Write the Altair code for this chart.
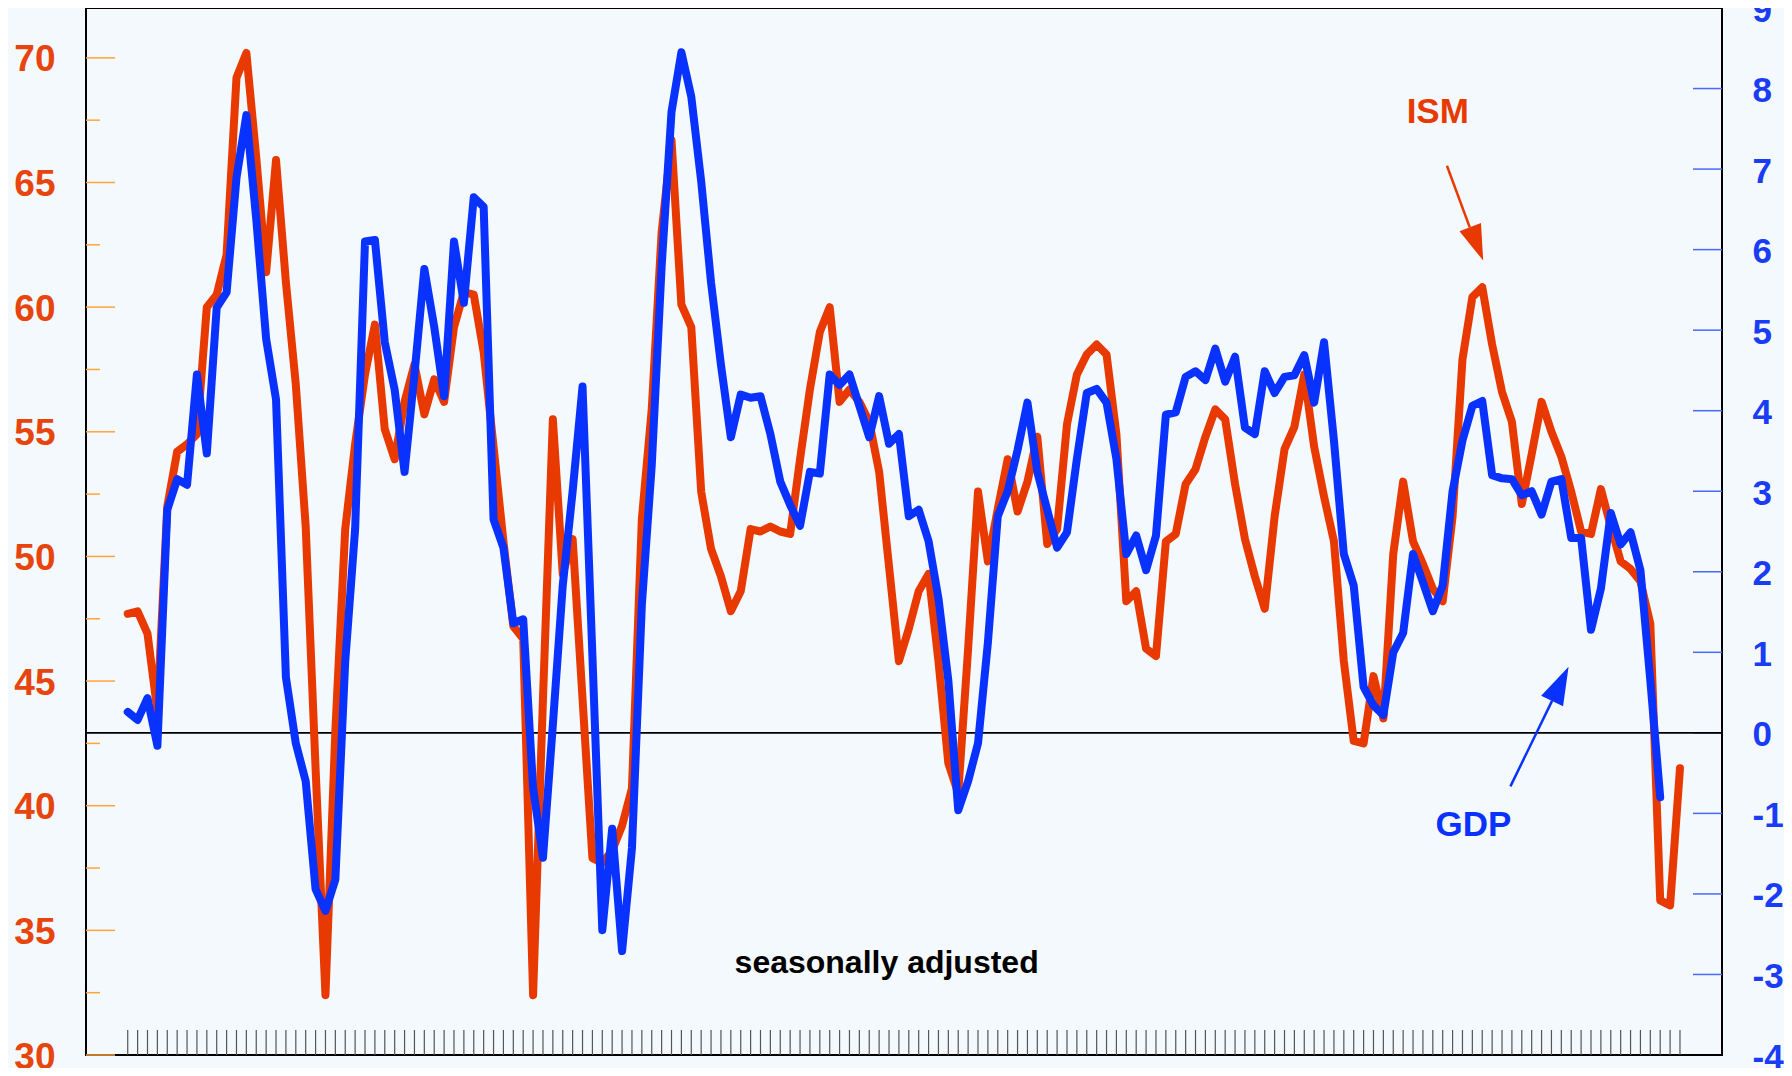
import altair as alt
import pandas as pd

# ---------------- data (quarterly, 1970Q1 onward) ----------------
quarters = [f"{1970 + i // 4}Q{i % 4 + 1}" for i in range(158)]

ism = [
    47.7, 47.8, 46.9, 43.8, 52.0, 54.2, 54.5, 54.9, 60.0, 60.5,
    62.1, 69.2, 70.2, 66.0, 61.4, 65.9, 61.0, 56.9, 51.2, 41.5,
    32.4, 43.0, 51.1, 54.5, 57.3, 59.3, 55.1, 53.9, 56.2, 57.7,
    55.7, 57.1, 56.2, 59.2, 60.6, 60.5, 58.2, 54.4, 50.6, 47.2,
    46.7, 32.4, 44.3, 55.5, 49.3, 50.7, 44.3, 37.9, 37.7, 38.2,
    39.2, 40.7, 51.5, 55.9, 63.0, 66.7, 60.1, 59.2, 52.6, 50.3,
    49.2, 47.8, 48.6, 51.1, 51.0, 51.2, 51.0, 50.9, 53.9, 56.7,
    59.0, 60.0, 56.2, 56.7, 56.2, 55.4, 53.4, 49.6, 45.8, 47.1,
    48.6, 49.3, 45.8, 41.7, 40.5, 46.3, 52.6, 49.8, 51.9, 53.9,
    51.8, 53.0, 54.8, 50.5, 51.1, 55.3, 57.3, 58.1, 58.5, 58.1,
    54.9, 48.2, 48.6, 46.3, 46.0, 50.6, 50.9, 52.9, 53.5, 54.8,
    55.9, 55.5, 52.9, 50.7, 49.2, 47.9, 51.6, 54.3, 55.2, 57.3,
    54.4, 52.4, 50.6, 45.8, 42.6, 42.5, 45.2, 43.5, 50.1, 53.0,
    50.6, 49.7, 48.7, 48.2, 51.6, 57.9, 60.4, 60.8, 58.5, 56.6,
    55.4, 52.1, 54.1, 56.2, 55.0, 54.0, 52.6, 51.0, 50.9, 52.7,
    51.2, 49.8, 49.5, 49.0, 47.3, 36.2, 36.0, 41.5,
]

gdp = [
    0.26, 0.16, 0.43, -0.16, 2.77, 3.15, 3.08, 4.45, 3.47, 5.28,
    5.47, 6.89, 7.67, 6.38, 4.89, 4.14, 0.69, -0.13, -0.60, -1.94,
    -2.21, -1.82, 0.89, 2.53, 6.10, 6.12, 4.85, 4.26, 3.24, 4.45,
    5.76, 5.04, 4.18, 6.10, 5.34, 6.65, 6.53, 2.65, 2.30, 1.36,
    1.41, -0.68, -1.55, 0.10, 1.83, 3.00, 4.30, 0.96, -2.45, -1.19,
    -2.71, -1.43, 1.59, 3.32, 5.79, 7.71, 8.45, 7.90, 6.85, 5.59,
    4.57, 3.67, 4.20, 4.16, 4.18, 3.71, 3.12, 2.83, 2.57, 3.24,
    3.22, 4.45, 4.32, 4.45, 4.06, 3.67, 4.18, 3.59, 3.71, 2.69,
    2.77, 2.38, 1.67, 0.65, -0.96, -0.60, -0.13, 1.12, 2.69, 3.00,
    3.51, 4.10, 3.24, 2.77, 2.30, 2.49, 3.40, 4.22, 4.27, 4.10,
    3.40, 2.22, 2.45, 2.02, 2.45, 3.95, 3.98, 4.42, 4.49, 4.38,
    4.77, 4.36, 4.67, 3.79, 3.71, 4.49, 4.22, 4.42, 4.44, 4.69,
    4.10, 4.85, 3.63, 2.22, 1.83, 0.57, 0.34, 0.22, 1.00, 1.24,
    2.22, 1.87, 1.51, 1.83, 3.00, 3.63, 4.06, 4.12, 3.20, 3.16,
    3.15, 2.95, 3.00, 2.71, 3.12, 3.15, 2.42, 2.42, 1.28, 1.79,
    2.73, 2.34, 2.49, 2.02, 0.65, -0.80,
]

left_labels = [30, 35, 40, 45, 50, 55, 60, 65, 70]
left_minor = [32.5, 37.5, 42.5, 47.5, 52.5, 57.5, 62.5, 67.5]
right_labels = [-4, -3, -2, -1, 0, 1, 2, 3, 4, 5, 6, 7, 8, 9]
right_ticks = [-3, -2, -1, 0, 1, 2, 3, 4, 5, 6, 7, 8]

# annotations (positions in data units: quarter index / ISM / GDP)
ism_text = pd.DataFrame({"idx": [132.5], "ISM": [67.83], "t": ["ISM"]})
gdp_text = pd.DataFrame({"idx": [136.1], "GDP": [-1.15], "t": ["GDP"]})
sa_text = pd.DataFrame({"idx": [76.76], "ISM": [33.71], "t": ["seasonally adjusted"]})
ism_arrow = pd.DataFrame({"x0": [133.43], "x1": [135.74], "y0": [65.67], "y1": [63.2]})
ism_head = pd.DataFrame({"idx": [136.44], "ISM": [62.54]})
gdp_arrow = pd.DataFrame({"x0": [139.85], "x1": [144.06], "y0": [-0.665], "y1": [0.397]})
gdp_head = pd.DataFrame({"idx": [144.9], "GDP": [0.608]})

# ---------------- styling ----------------
W, H = 1636, 1047
RED = "#E83A00"
BLUE = "#0A32FF"
RED_LABEL = "#E8440E"
BLUE_LABEL = "#1A3CF5"
ORANGE_TICK = "#FFA53A"
BLUE_TICK = "#4A68FF"
BG = "#F3F9FC"
FONT = "Liberation Sans"

df_ism = pd.DataFrame({"idx": list(range(len(ism))), "quarter": quarters[: len(ism)], "ISM": ism})
df_gdp = pd.DataFrame({"idx": list(range(len(gdp))), "quarter": quarters[: len(gdp)], "GDP": gdp})

x_scale = alt.Scale(domain=[-4.22, 161.25], nice=False, zero=False)
ism_scale = alt.Scale(domain=[30, 72], nice=False, zero=False)
gdp_scale = alt.Scale(domain=[-4, 9], nice=False, zero=False)

X = alt.X("idx:Q", scale=x_scale, axis=None)

left_axis = alt.Axis(
    orient="left", values=left_labels, ticks=False, domain=False, grid=False,
    labelPadding=31, labelFontSize=37, labelFont=FONT, labelFontWeight="bold",
    labelColor=RED_LABEL, labelOffset=2, labelOverlap=False, labelBound=False,
    title=None,
)
right_axis = alt.Axis(
    orient="right", values=right_labels, ticks=False, domain=False, grid=False,
    labelPadding=30, labelFontSize=35, labelFont=FONT, labelFontWeight="bold",
    labelColor=BLUE_LABEL, labelOffset=2, labelOverlap=False, labelBound=False,
    labelExpr="'' + datum.value",
    title=None,
)

# ticks drawn inside the frame
bottom_ticks = alt.Chart(df_ism).mark_rule(color="#555555", strokeWidth=1.2).encode(
    x=X, y=alt.value(H - 25), y2=alt.value(H)
)
left_major = alt.Chart(pd.DataFrame({"v": left_labels})).mark_rule(
    color=ORANGE_TICK, strokeWidth=1.5
).encode(x=alt.value(0), x2=alt.value(29), y=alt.Y("v:Q", scale=ism_scale, axis=None))
left_min = alt.Chart(pd.DataFrame({"v": left_minor})).mark_rule(
    color=ORANGE_TICK, strokeWidth=1.5
).encode(x=alt.value(0), x2=alt.value(14), y=alt.Y("v:Q", scale=ism_scale, axis=None))
right_tk = alt.Chart(pd.DataFrame({"v": right_ticks})).mark_rule(
    color=BLUE_TICK, strokeWidth=1.5
).encode(x=alt.value(W - 29), x2=alt.value(W), y=alt.Y("v:Q", scale=gdp_scale, axis=None))

zero_line = alt.Chart(pd.DataFrame({"v": [0]})).mark_rule(color="black", strokeWidth=1.6).encode(
    x=alt.value(0), x2=alt.value(W), y=alt.Y("v:Q", scale=gdp_scale, axis=None)
)

ism_line = alt.Chart(df_ism).mark_line(
    color=RED, strokeWidth=8, strokeCap="round", strokeJoin="round"
).encode(x=X, y=alt.Y("ISM:Q", scale=ism_scale, axis=left_axis), order="idx:Q")

gdp_line = alt.Chart(df_gdp).mark_line(
    color=BLUE, strokeWidth=8, strokeCap="round", strokeJoin="round"
).encode(x=X, y=alt.Y("GDP:Q", scale=gdp_scale, axis=right_axis), order="idx:Q")

head_path = "M0,-1L0.64,1L-0.64,1Z"

ism_arrow_line = alt.Chart(ism_arrow).mark_rule(color=RED, strokeWidth=2.5).encode(
    x=alt.X("x0:Q", scale=x_scale, axis=None), x2="x1:Q",
    y=alt.Y("y0:Q", scale=ism_scale, axis=None), y2="y1:Q",
)
ism_arrow_head = alt.Chart(ism_head).mark_point(
    shape=head_path, filled=True, size=1296, angle=158.9, color=RED, opacity=1, strokeWidth=0
).encode(x=X, y=alt.Y("ISM:Q", scale=ism_scale, axis=None))
gdp_arrow_line = alt.Chart(gdp_arrow).mark_rule(color=BLUE, strokeWidth=2.5).encode(
    x=alt.X("x0:Q", scale=x_scale, axis=None), x2="x1:Q",
    y=alt.Y("y0:Q", scale=gdp_scale, axis=None), y2="y1:Q",
)
gdp_arrow_head = alt.Chart(gdp_head).mark_point(
    shape=head_path, filled=True, size=1444, angle=25.7, color=BLUE, opacity=1, strokeWidth=0
).encode(x=X, y=alt.Y("GDP:Q", scale=gdp_scale, axis=None))

ism_label = alt.Chart(ism_text).mark_text(
    font=FONT, fontSize=35, fontWeight="bold", color=RED, align="center", baseline="middle"
).encode(x=X, y=alt.Y("ISM:Q", scale=ism_scale, axis=None), text="t:N")
gdp_label = alt.Chart(gdp_text).mark_text(
    font=FONT, fontSize=35, fontWeight="bold", color=BLUE, align="center", baseline="middle"
).encode(x=X, y=alt.Y("GDP:Q", scale=gdp_scale, axis=None), text="t:N")
sa_label = alt.Chart(sa_text).mark_text(
    font=FONT, fontSize=32, fontWeight="bold", color="black", align="center", baseline="middle"
).encode(x=X, y=alt.Y("ISM:Q", scale=ism_scale, axis=None), text="t:N")

chart = (
    alt.layer(
        bottom_ticks, left_major, left_min, right_tk, zero_line,
        ism_line, gdp_line,
        ism_arrow_line, ism_arrow_head, gdp_arrow_line, gdp_arrow_head,
        ism_label, gdp_label, sa_label,
    )
    .resolve_scale(y="independent")
    .properties(
        width=W, height=H, background=BG,
        padding={"left": 78, "top": 0, "right": 62, "bottom": 13},
        autosize=alt.AutoSizeParams(type="none"),
    )
    .configure_view(stroke="black", strokeWidth=2, fill=BG)
)

chart.save("out.html", embed_options={"renderer": "svg", "actions": False})
